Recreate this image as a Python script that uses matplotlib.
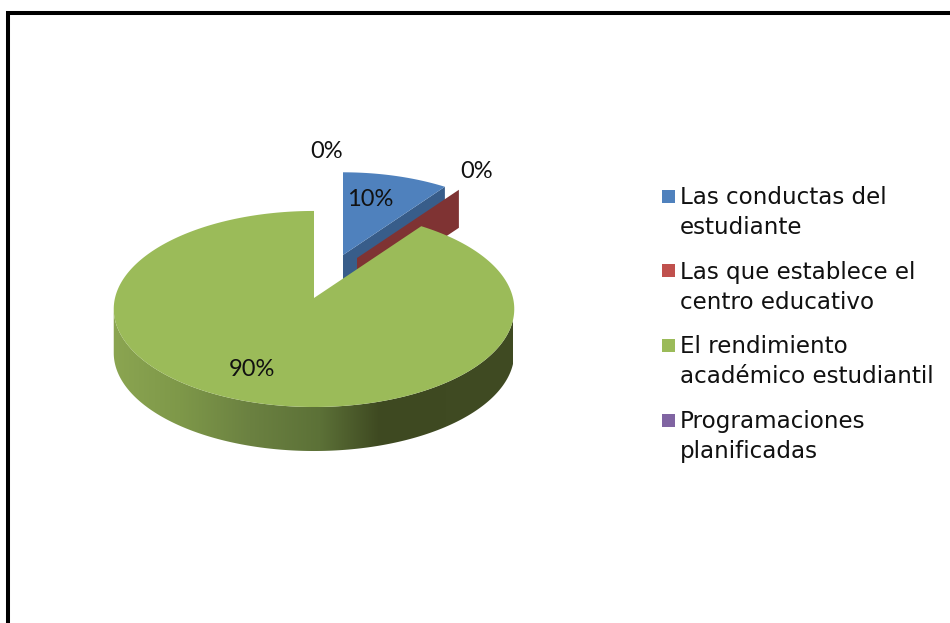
import numpy as np
from matplotlib import pyplot as plt
from matplotlib.patches import Rectangle

labels = ['Las conductas del\nestudiante', 'Las que establece el\ncentro educativo',
          'El rendimiento\nacadémico estudiantil', 'Programaciones\nplanificadas']
values = [10, 0, 90, 0]
pct_labels = ['10%', '0%', '90%', '0%']
colors = ['#4f81bd', '#c0504d', '#9bbb59', '#8064a2']
side_colors = ['#385d8a', '#7f3333']

# where each slice sits after exploding: apex x, apex y, size, depth
apex_x = [343, 357, 314]
apex_y = [255, 258, 298]
scale = [0.95, 0.95, 1.0]
depth = [38, 38, 44]

# gradient on the rim of the big slice
grad_x = [113, 180, 250, 320, 380, 513]
grad_colors = ['#8ba551', '#7e9849', '#6b8141', '#5c7137', '#3e4921', '#404b23']

# fake perspective of the pie
k = 0.112
rx = 199
ry = 96.8


def rim(t, i):
    t = np.radians(t)
    d = 1 + k * np.cos(t)
    return apex_x[i] + scale[i] * rx * np.sin(t) / d, apex_y[i] - scale[i] * ry * np.cos(t) / d


fig = plt.figure(figsize=(9.5, 6.23), dpi=100)
ax = fig.add_axes([0, 0, 1, 1])

ends = np.cumsum(values) * 3.6
starts = ends - np.array(values) * 3.6

# cut faces of the exploded slices, blue then red
for i in [0, 1]:
    x, y = rim(ends[i], i)
    ax.fill([apex_x[i], x, x, apex_x[i]], [apex_y[i], y, y + depth[i], apex_y[i] + depth[i]],
            color=side_colors[i], lw=0)
t = np.linspace(starts[0], ends[0], 60)
x, y = rim(t, 0)
ax.fill(np.r_[apex_x[0], x], np.r_[apex_y[0], y], color=colors[0], lw=0)

# rim of the big slice, gradient clipped to the band
t = np.linspace(96, 264, 200)
x, y = rim(t, 2)
band = ax.fill(np.r_[x, x[::-1]], np.r_[y, y[::-1] + depth[2]], color='none', lw=0)[0]
xs = np.arange(grad_x[0], grad_x[-1] + 1)
rgb = np.array([plt.matplotlib.colors.to_rgb(c) for c in grad_colors])
img = np.stack([np.interp(xs, grad_x, rgb[:, c]) for c in range(3)], axis=-1)[None, :, :]
im = ax.imshow(img, extent=[grad_x[0], grad_x[-1], 470, 290], aspect='auto', interpolation='bilinear')
im.set_clip_path(band)

t = np.linspace(starts[2], ends[2], 300)
x, y = rim(t, 2)
ax.fill(np.r_[apex_x[2], x], np.r_[apex_y[2], y], color=colors[2], lw=0)

# data labels
label_x = [370, 477, 252, 327]
label_y = [200, 172, 370, 151]
for s, lx, ly in zip(pct_labels, label_x, label_y):
    ax.text(lx, ly, s, ha='center', va='center', fontsize=17, family='Lato', color='#111111')

# legend by hand, each entry keeps its swatch on the first line
for i, (lab, c) in enumerate(zip(labels, colors)):
    y0 = 196 + i * 74.7
    ax.add_patch(Rectangle((662, y0 - 6.5), 13, 13, color=c, lw=0))
    ax.text(680, y0 + 8, lab.split('\n')[0], fontsize=16.6, family='DejaVu Sans', color='#111111', va='baseline')
    ax.text(680, y0 + 38, lab.split('\n')[1], fontsize=16.6, family='DejaVu Sans', color='#111111', va='baseline')

# frame of the pasted picture, bottom and right are cut off
ax.plot([8, 8, 955], [630, 12.5, 12.5], color='black', lw=2.9, solid_joinstyle='miter')

ax.set_xlim(0, 950)
ax.set_ylim(623, 0)
ax.axis('off')
fig.savefig('out.png', dpi=100)
